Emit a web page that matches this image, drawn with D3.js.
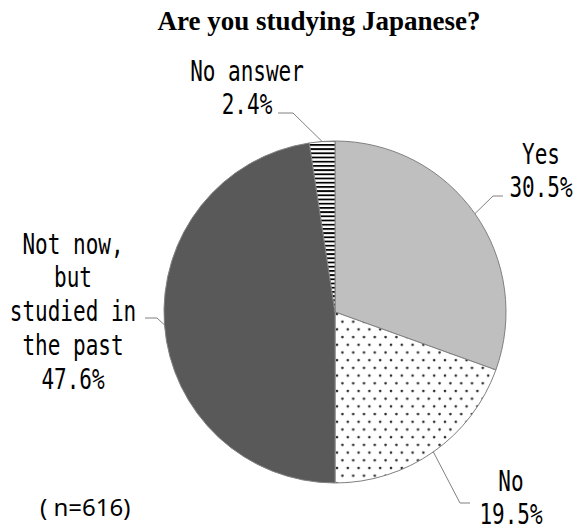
<!DOCTYPE html>
<html>
<head>
<meta charset="utf-8">
<script src="https://cdn.jsdelivr.net/npm/d3@7"></script>
<style>
  body { margin: 0; background: #fff; }
  svg { display: block; }
</style>
</head>
<body>
<svg id="chart" width="577" height="531"></svg>
<script>
// chart data
var title = "Are you studying Japanese?";
var categories = ["Yes", "No", "Not now, but studied in the past", "No answer"];
var values = [30.5, 19.5, 47.6, 2.4];
var labelLines = [["Yes"], ["No"], ["Not now,", "but", "studied in", "the past"], ["No answer"]];
var sampleNote = "( n=616)";

(function() {

	var width = 577,
		height = 531,
		cx = 335,
		cy = 312,
		radius = 171,
		lineHeight = 34,
		labelFont = "DejaVu Sans Mono",
		labelSize = 28,
		labelScaleX = 0.75;

	// where each label sits and where its leader line bends (layout only)
	var labelLayout = [
		{ x: 541, y: 153, elbow: [493, 196], end: [503, 196] },
		{ x: 511, y: 480, elbow: [460, 503], end: [470, 503] },
		{ x: 73,  y: 243, elbow: [157, 318], end: [145, 318] },
		{ x: 247, y: 70,  elbow: [293, 113], end: [278, 113] }
	];

	var fills = ["#bfbfbf", "url(#dots)", "#595959", "url(#stripes)"];

	var svg = d3.select("#chart");
	var defs = svg.append("defs");

	var dots = defs.append("pattern")
		.attr("id", "dots")
		.attr("patternUnits", "userSpaceOnUse")
		.attr("width", 10.8)
		.attr("height", 15.4);
	dots.append("rect").attr("width", 10.8).attr("height", 15.4).attr("fill", "#fff");
	dots.append("circle").attr("cx", 2).attr("cy", 2).attr("r", 1.3).attr("fill", "#2a2a2a");
	dots.append("circle").attr("cx", 7.4).attr("cy", 9.7).attr("r", 1.3).attr("fill", "#2a2a2a");

	var stripes = defs.append("pattern")
		.attr("id", "stripes")
		.attr("patternUnits", "userSpaceOnUse")
		.attr("width", 8)
		.attr("height", 4.2);
	stripes.append("rect").attr("width", 8).attr("height", 4.2).attr("fill", "#fff");
	stripes.append("rect").attr("width", 8).attr("height", 1.8).attr("fill", "#000");

	svg.append("rect")
		.attr("width", width)
		.attr("height", height)
		.attr("fill", "#fff");

	svg.append("text")
		.attr("x", 319)
		.attr("y", 30)
		.attr("text-anchor", "middle")
		.attr("font-family", "Liberation Serif, Times New Roman, serif")
		.attr("font-weight", "bold")
		.attr("font-size", 27)
		.attr("fill", "#000")
		.text(title);

	var data = categories.map(function(c, i) {
		return { category: c, value: values[i], lines: labelLines[i], layout: labelLayout[i], fill: fills[i] };
	});

	var pie = d3.pie()
		.sort(null)
		.value(function(d) { return d.value; });

	var arc = d3.arc()
		.innerRadius(0)
		.outerRadius(radius);

	var arcs = pie(data);

	var pieGroup = svg.append("g")
		.attr("transform", "translate(" + cx + "," + cy + ")");

	pieGroup.selectAll("path")
		.data(arcs)
		.enter()
			.append("path")
			.attr("d", arc)
			.attr("fill", function(d) { return d.data.fill; })
			.attr("stroke", "#808080")
			.attr("stroke-width", 1);

	// leader lines from the slice edge at its mid angle
	svg.selectAll("polyline.leader")
		.data(arcs)
		.enter()
			.append("polyline")
			.attr("class", "leader")
			.attr("fill", "none")
			.attr("stroke", "#808080")
			.attr("stroke-width", 1)
			.attr("points", function(d) {
				var mid = (d.startAngle + d.endAngle) / 2,
					px = cx + radius * Math.sin(mid),
					py = cy - radius * Math.cos(mid),
					l = d.data.layout;
				return [[px, py], l.elbow, l.end].map(function(p) { return p.join(","); }).join(" ");
			});

	var fmt = d3.format(".1f");

	var labels = svg.selectAll("g.label")
		.data(arcs)
		.enter()
			.append("g")
			.attr("class", "label")
			.attr("transform", function(d) {
				return "translate(" + d.data.layout.x + "," + d.data.layout.y + ") scale(" + labelScaleX + ",1)";
			});

	labels.append("text")
		.attr("text-anchor", "middle")
		.attr("font-family", labelFont)
		.attr("font-size", labelSize)
		.attr("fill", "#000")
		.each(function(d) {
			var t = d3.select(this),
				lines = d.data.lines.concat([fmt(d.data.value) + "%"]);
			lines.forEach(function(line, i) {
				t.append("tspan")
					.attr("x", 0)
					.attr("y", i * lineHeight + 10.5)
					.text(line);
			});
		});

	svg.append("text")
		.attr("x", 40)
		.attr("y", 516)
		.attr("font-family", "Noto Sans, sans-serif")
		.attr("font-size", 24)
		.attr("fill", "#000")
		.text(sampleNote);

}());
</script>
</body>
</html>
